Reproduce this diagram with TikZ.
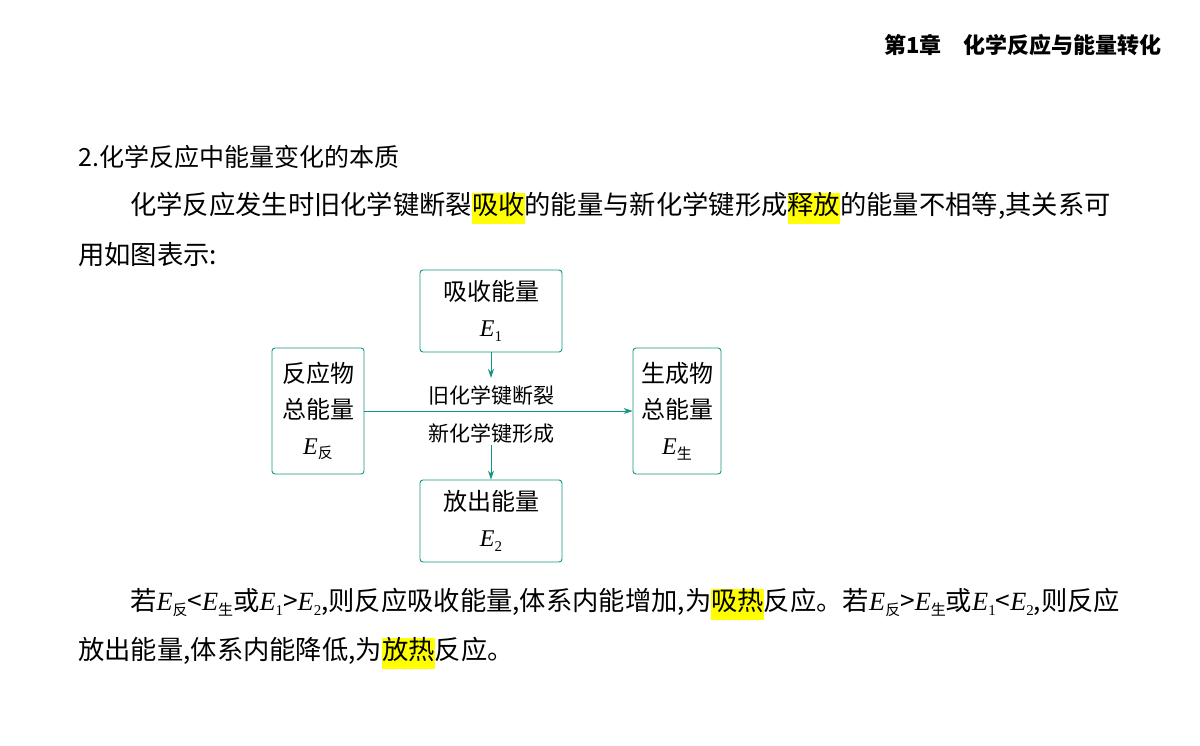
\documentclass[tikz,border=0pt]{standalone}
\usetikzlibrary{arrows.meta}
\usepackage{fontspec}
\setmainfont{Noto Sans CJK SC}
\newfontfamily\serifE{Liberation Serif}
\usepackage{xcolor}
\definecolor{teal1}{RGB}{20,150,130}
\definecolor{hly}{RGB}{255,255,0}
\newcommand{\hlt}[1]{{\setlength{\fboxsep}{0pt}\colorbox{hly}{\strut #1}}}
\newcommand{\EE}[1]{{\serifE\itshape E}\raisebox{-0.35ex}{\fontsize{15}{15}\selectfont #1}}
\newcommand{\EN}[1]{{\serifE\itshape E}\raisebox{-0.35ex}{\fontsize{15}{15}\selectfont\serifE #1}}
\begin{document}
\begin{tikzpicture}[x=1pt,y=-1pt,
  body/.style={anchor=west,inner sep=0pt,font=\fontsize{26.3}{30}\selectfont},
  box/.style={draw=teal1,rounded corners=3pt,line width=0.9pt,align=center,inner sep=0pt,font=\fontsize{24}{36}\selectfont},
  arr/.style={draw=teal1,line width=0.9pt,-{Stealth[length=9pt,width=6pt]}}]
\useasboundingbox (0,0) rectangle (1200,745);
\node[anchor=east,inner sep=0pt,font=\fontsize{22}{24}\selectfont\bfseries] (hdr) at (1162,45) {第1章\quad 化学反应与能量转化};
\node[anchor=west,inner sep=0pt,font=\fontsize{25}{28}\selectfont] (title) at (78,157) {2.化学反应中能量变化的本质};
\node[body] (p1) at (130,208) {化学反应发生时旧化学键断裂\hlt{吸收}的能量与新化学键形成\hlt{释放}的能量不相等,其关系可};
\node[body] (p2) at (78,255) {用如图表示:};
\node[box,minimum width=142pt,minimum height=82pt] (top) at (491,311) {吸收能量\\\EN{1}};
\node[box,minimum width=142pt,minimum height=82pt] (bot) at (491,521) {放出能量\\\EN{2}};
\node[box,minimum width=92pt,minimum height=126pt] (lft) at (318,411) {反应物\\总能量\\\EE{反}};
\node[box,minimum width=88pt,minimum height=126pt] (rgt) at (677,411) {生成物\\总能量\\\EE{生}};
\draw[arr] (lft.east) -- (rgt.west);
\coordinate (t1) at (491,378);
\coordinate (b1) at (491,445);
\draw[arr] (top.south) -- (t1);
\draw[arr] (b1) -- (bot.north);
\node[inner sep=0pt,font=\fontsize{21}{24}\selectfont] (l1) at (491,395) {旧化学键断裂};
\node[inner sep=0pt,font=\fontsize{21}{24}\selectfont] (l2) at (491,433) {新化学键形成};
\node[body] (q1) at (130,604) {若\EE{反}<\EE{生}或\EN{1}>\EN{2},则反应吸收能量,体系内能增加,为\hlt{吸热}反应。若\EE{反}>\EE{生}或\EN{1}<\EN{2},则反应};
\node[body] (q2) at (78,653) {放出能量,体系内能降低,为\hlt{放热}反应。};
\end{tikzpicture}
\end{document}
